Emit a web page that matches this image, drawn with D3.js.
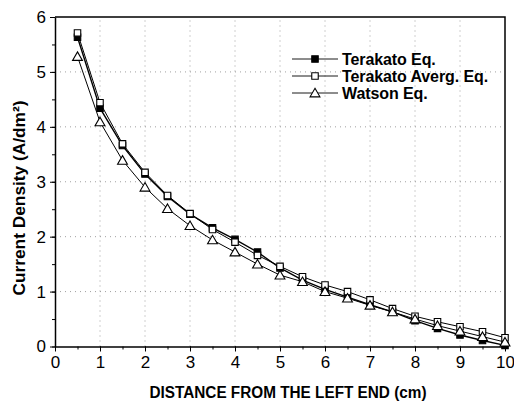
<!DOCTYPE html>
<html>
<head>
<meta charset="utf-8">
<script src="https://cdn.jsdelivr.net/npm/d3@7"></script>
<style>
body { margin: 0; background: #fff; }
svg { display: block; font-family: "Liberation Sans", Arial, sans-serif; }
</style>
</head>
<body>
<div id="chart"></div>
<script>
var distance = [ 0.5, 1, 1.5, 2, 2.5, 3, 3.5, 4, 4.5, 5, 5.5, 6, 6.5, 7, 7.5, 8, 8.5, 9, 9.5, 10 ];
var terakato = [ 5.63, 4.34, 3.66, 3.14, 2.73, 2.41, 2.16, 1.95, 1.72, 1.43, 1.21, 1.04, 0.9, 0.76, 0.63, 0.47, 0.33, 0.21, 0.11, 0.02 ];
var terakatoAvg = [ 5.71, 4.44, 3.69, 3.17, 2.75, 2.42, 2.13, 1.9, 1.66, 1.46, 1.27, 1.12, 1.0, 0.85, 0.69, 0.55, 0.45, 0.36, 0.27, 0.16 ];
var watson = [ 5.28, 4.09, 3.39, 2.9, 2.51, 2.2, 1.94, 1.72, 1.5, 1.3, 1.18, 1.0, 0.88, 0.75, 0.63, 0.5, 0.38, 0.28, 0.18, 0.08 ];
var xTicks = [ 0, 1, 2, 3, 4, 5, 6, 7, 8, 9, 10 ];
var yTicks = [ 0, 1, 2, 3, 4, 5, 6 ];
var seriesNames = [ "Terakato Eq.", "Terakato Averg. Eq.", "Watson Eq." ];

var width = 514, height = 405;
var margin = { top: 17, right: 9, bottom: 58.5, left: 55 };

var svg = d3.select( "#chart" ).append( "svg" )
	.attr( "width", width )
	.attr( "height", height );

var xScale = d3.scaleLinear().domain( [ 0, 10 ] ).range( [ margin.left, width - margin.right ] );
var yScale = d3.scaleLinear().domain( [ 0, 6 ] ).range( [ height - margin.bottom, margin.top ] );

// dotted grid
svg.append( "g" )
	.selectAll( "line" )
	.data( xTicks.slice( 1, -1 ) )
	.enter().append( "line" )
	.attr( "x1", d => xScale( d ) ).attr( "x2", d => xScale( d ) )
	.attr( "y1", yScale( 0 ) ).attr( "y2", yScale( 6 ) )
	.attr( "stroke", "#888" ).attr( "stroke-width", 0.8 )
	.attr( "stroke-dasharray", "1,4" );

svg.append( "g" )
	.selectAll( "line" )
	.data( yTicks.slice( 1, -1 ) )
	.enter().append( "line" )
	.attr( "x1", xScale( 0 ) ).attr( "x2", xScale( 10 ) )
	.attr( "y1", d => yScale( d ) ).attr( "y2", d => yScale( d ) )
	.attr( "stroke", "#888" ).attr( "stroke-width", 0.8 )
	.attr( "stroke-dasharray", "1,4" );

// minor ticks
svg.append( "g" )
	.attr( "transform", `translate(0, ${ yScale( 0 ) })` )
	.call( d3.axisBottom( xScale ).ticks( 20 ).tickSize( 3 ).tickFormat( "" ) )
	.call( g => g.select( ".domain" ).remove() );
svg.append( "g" )
	.attr( "transform", `translate(${ xScale( 0 ) }, 0)` )
	.call( d3.axisLeft( yScale ).ticks( 12 ).tickSize( 3 ).tickFormat( "" ) )
	.call( g => g.select( ".domain" ).remove() );

// major axes
var xAxis = svg.append( "g" )
	.attr( "transform", `translate(0, ${ yScale( 0 ) })` )
	.call( d3.axisBottom( xScale ).tickValues( xTicks ).tickFormat( d3.format( "d" ) ).tickSize( 5 ).tickSizeOuter( 0 ).tickPadding( 4 ) );
xAxis.selectAll( "text" ).attr( "font-size", "17px" ).attr( "font-family", "Liberation Sans, Arial, sans-serif" ).attr( "fill", "#000" );

var yAxis = svg.append( "g" )
	.attr( "transform", `translate(${ xScale( 0 ) }, 0)` )
	.call( d3.axisLeft( yScale ).tickValues( yTicks ).tickFormat( d3.format( "d" ) ).tickSize( 5 ).tickSizeOuter( 0 ).tickPadding( 4 ) );
yAxis.selectAll( "text" ).attr( "font-size", "17px" ).attr( "font-family", "Liberation Sans, Arial, sans-serif" ).attr( "fill", "#000" );

svg.selectAll( ".domain" ).attr( "stroke-width", 1.5 );

// top and right frame
svg.append( "path" )
	.attr( "d", `M${ xScale( 0 ) },${ yScale( 6 ) }H${ xScale( 10 ) }V${ yScale( 0 ) }` )
	.attr( "fill", "none" )
	.attr( "stroke", "#000" )
	.attr( "stroke-width", 1.5 );

// axis titles
svg.append( "text" )
	.attr( "x", ( xScale( 0 ) + xScale( 10 ) ) / 2 + 8 )
	.attr( "y", 398 )
	.attr( "text-anchor", "middle" )
	.attr( "font-weight", "bold" )
	.attr( "font-size", "16px" )
	.attr( "textLength", 277 )
	.attr( "lengthAdjust", "spacingAndGlyphs" )
	.text( "DISTANCE FROM THE LEFT END (cm)" );

svg.append( "text" )
	.attr( "transform", "rotate(-90)" )
	.attr( "x", -198 )
	.attr( "y", 25 )
	.attr( "text-anchor", "middle" )
	.attr( "font-weight", "bold" )
	.attr( "font-size", "16px" )
	.attr( "textLength", 195 )
	.attr( "lengthAdjust", "spacingAndGlyphs" )
	.text( "Current Density (A/dm²)" );

var series = [
	{ name: seriesNames[0], values: terakato, marker: "filled" },
	{ name: seriesNames[1], values: terakatoAvg, marker: "square" },
	{ name: seriesNames[2], values: watson, marker: "triangle" }
];

var line = d3.line()
	.x( d => xScale( d[0] ) )
	.y( d => yScale( d[1] ) );

var symbolFor = function ( m ) {
	if ( m === "triangle" ) {
		return d3.symbol().type( d3.symbolTriangle ).size( 42 )();
	}
	return d3.symbol().type( d3.symbolSquare ).size( 42 )();
};

var drawMarker = function ( sel, m ) {
	sel.append( "path" )
		.attr( "d", symbolFor( m ) )
		.attr( "fill", m === "filled" ? "#000" : "#fff" )
		.attr( "stroke", "#000" )
		.attr( "stroke-width", 1.1 );
};

series.forEach( function ( s ) {
	var pts = distance.map( ( x, i ) => [ x, s.values[i] ] );
	svg.append( "path" )
		.attr( "d", line( pts ) )
		.attr( "fill", "none" )
		.attr( "stroke", "#000" )
		.attr( "stroke-width", s.marker === "filled" ? 1.4 : 1 );
} );

series.forEach( function ( s ) {
	var pts = distance.map( ( x, i ) => [ x, s.values[i] ] );
	svg.append( "g" )
		.selectAll( "g" )
		.data( pts )
		.enter().append( "g" )
		.attr( "transform", d => `translate(${ xScale( d[0] ) },${ yScale( d[1] ) + ( s.marker === "triangle" ? 1 : 0 ) })` )
		.each( function () { drawMarker( d3.select( this ), s.marker ); } );
} );

// legend
var legend = svg.append( "g" ).attr( "transform", "translate(292, 59)" );
series.forEach( function ( s, i ) {
	var row = legend.append( "g" ).attr( "transform", `translate(0, ${ i * 17 })` );
	row.append( "line" )
		.attr( "x1", 0 ).attr( "x2", 46 )
		.attr( "stroke", "#000" ).attr( "stroke-width", 0.9 );
	var mk = row.append( "g" ).attr( "transform", `translate(23, ${ s.marker === "triangle" ? 1 : 0 })` );
	drawMarker( mk, s.marker );
	row.append( "text" )
		.attr( "x", 50 )
		.attr( "y", 5.5 )
		.attr( "font-weight", "bold" )
		.attr( "font-size", "16px" )
		.attr( "letter-spacing", "-0.1px" )
		.text( s.name );
} );
</script>
</body>
</html>
